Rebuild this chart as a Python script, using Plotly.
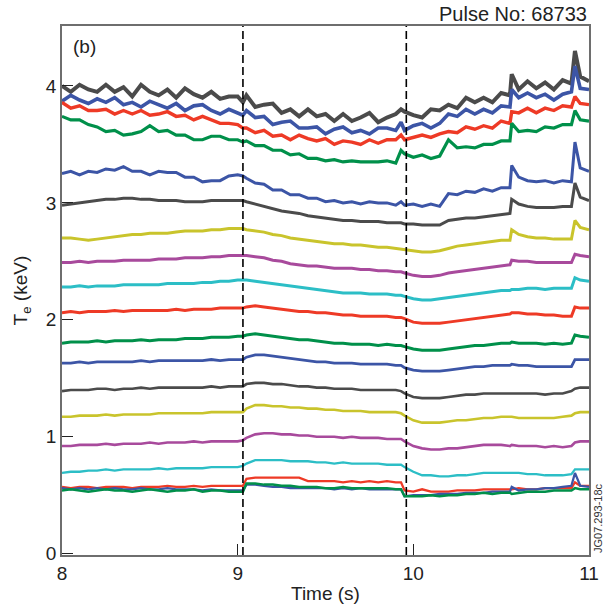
import plotly.graph_objects as go

# Time base (s)
time_s = [8.00, 8.05, 8.10, 8.15, 8.20, 8.25, 8.30, 8.35, 8.40, 8.45,
          8.50, 8.55, 8.60, 8.65, 8.70, 8.75, 8.80, 8.85, 8.90, 8.95,
          9.00, 9.03, 9.05, 9.10, 9.15, 9.20, 9.25, 9.30, 9.35, 9.40,
          9.45, 9.50, 9.55, 9.60, 9.65, 9.70, 9.75, 9.80, 9.85, 9.90,
          9.93, 9.95, 10.00, 10.05, 10.10, 10.15, 10.20, 10.25, 10.30, 10.35,
          10.40, 10.45, 10.50, 10.55, 10.56, 10.60, 10.65, 10.70, 10.75, 10.80,
          10.85, 10.90, 10.92, 10.95, 11.00]

# Te channels (keV), top to bottom
te_gray_1 = [4.00, 3.95, 4.01, 3.97, 3.95, 4.01, 3.95, 3.99, 3.91, 4.01,
             3.95, 3.92, 3.97, 3.90, 3.98, 3.93, 3.90, 3.95, 3.89, 3.91,
             3.91, 3.86, 3.92, 3.82, 3.84, 3.85, 3.77, 3.80, 3.74, 3.80,
             3.74, 3.76, 3.70, 3.76, 3.70, 3.73, 3.77, 3.69, 3.73, 3.76,
             3.80, 3.78, 3.75, 3.73, 3.80, 3.79, 3.84, 3.81, 3.90, 3.86,
             3.90, 3.86, 3.94, 3.92, 4.10, 3.97, 4.04, 3.98, 4.03, 3.97,
             4.05, 4.02, 4.30, 4.08, 4.04]
te_blue_1 = [3.87, 3.92, 3.88, 3.85, 3.89, 3.86, 3.90, 3.84, 3.86, 3.82,
             3.87, 3.84, 3.81, 3.85, 3.79, 3.83, 3.84, 3.79, 3.76, 3.80,
             3.77, 3.75, 3.79, 3.73, 3.74, 3.67, 3.69, 3.70, 3.64, 3.64,
             3.65, 3.59, 3.63, 3.65, 3.60, 3.62, 3.59, 3.64, 3.64, 3.62,
             3.69, 3.62, 3.66, 3.68, 3.64, 3.68, 3.76, 3.74, 3.80, 3.76,
             3.80, 3.77, 3.83, 3.82, 3.97, 3.90, 3.94, 3.90, 3.93, 3.88,
             3.93, 3.95, 4.17, 3.98, 3.97]
te_red_1 = [3.86, 3.81, 3.83, 3.79, 3.79, 3.80, 3.76, 3.79, 3.76, 3.79,
            3.75, 3.76, 3.78, 3.74, 3.75, 3.71, 3.74, 3.71, 3.68, 3.68,
            3.67, 3.64, 3.64, 3.60, 3.62, 3.57, 3.58, 3.54, 3.58, 3.55,
            3.53, 3.55, 3.50, 3.53, 3.52, 3.50, 3.54, 3.51, 3.54, 3.54,
            3.58, 3.54, 3.56, 3.58, 3.56, 3.59, 3.61, 3.60, 3.65, 3.63,
            3.66, 3.64, 3.70, 3.68, 3.78, 3.77, 3.81, 3.77, 3.81, 3.79,
            3.83, 3.82, 3.91, 3.85, 3.84]
te_green_1 = [3.74, 3.71, 3.71, 3.67, 3.65, 3.61, 3.62, 3.58, 3.59, 3.61,
              3.66, 3.61, 3.62, 3.58, 3.58, 3.54, 3.54, 3.57, 3.57, 3.54,
              3.54, 3.52, 3.53, 3.49, 3.49, 3.45, 3.45, 3.41, 3.42, 3.38,
              3.38, 3.36, 3.37, 3.35, 3.36, 3.35, 3.35, 3.35, 3.36, 3.34,
              3.45, 3.42, 3.39, 3.41, 3.38, 3.40, 3.54, 3.47, 3.48, 3.47,
              3.50, 3.50, 3.53, 3.53, 3.68, 3.61, 3.62, 3.61, 3.65, 3.64,
              3.67, 3.67, 3.79, 3.71, 3.70]
te_blue_2 = [3.25, 3.27, 3.24, 3.27, 3.26, 3.29, 3.28, 3.31, 3.27, 3.27,
             3.24, 3.27, 3.26, 3.26, 3.22, 3.22, 3.18, 3.19, 3.19, 3.23,
             3.24, 3.23, 3.21, 3.17, 3.16, 3.11, 3.11, 3.07, 3.07, 3.04,
             3.04, 3.01, 3.02, 3.00, 3.01, 2.99, 3.01, 3.00, 3.00, 2.98,
             3.01, 2.98, 2.99, 2.97, 2.99, 2.97, 3.08, 3.07, 3.10, 3.09,
             3.12, 3.10, 3.13, 3.13, 3.32, 3.22, 3.19, 3.18, 3.19, 3.17,
             3.19, 3.18, 3.52, 3.30, 3.27]
te_gray_2 = [2.98, 2.99, 3.00, 3.01, 3.02, 3.03, 3.03, 3.04, 3.04, 3.03,
             3.03, 3.02, 3.02, 3.02, 3.01, 3.01, 3.01, 3.02, 3.02, 3.02,
             3.02, 3.02, 3.01, 2.99, 2.97, 2.95, 2.93, 2.92, 2.91, 2.89,
             2.88, 2.87, 2.86, 2.85, 2.85, 2.84, 2.84, 2.84, 2.83, 2.83,
             2.83, 2.82, 2.82, 2.81, 2.81, 2.81, 2.85, 2.86, 2.87, 2.87,
             2.88, 2.89, 2.90, 2.91, 3.03, 2.99, 2.97, 2.96, 2.96, 2.96,
             2.97, 2.97, 3.17, 3.05, 3.02]
te_olive_1 = [2.70, 2.70, 2.69, 2.68, 2.69, 2.70, 2.71, 2.72, 2.73, 2.73,
              2.74, 2.74, 2.74, 2.75, 2.76, 2.76, 2.76, 2.77, 2.77, 2.78,
              2.78, 2.78, 2.77, 2.76, 2.75, 2.73, 2.72, 2.70, 2.69, 2.68,
              2.67, 2.66, 2.65, 2.65, 2.64, 2.64, 2.63, 2.62, 2.62, 2.61,
              2.61, 2.60, 2.59, 2.58, 2.58, 2.59, 2.61, 2.63, 2.64, 2.65,
              2.66, 2.67, 2.68, 2.68, 2.77, 2.73, 2.71, 2.70, 2.70, 2.69,
              2.69, 2.69, 2.85, 2.79, 2.77]
te_magenta_1 = [2.49, 2.49, 2.50, 2.49, 2.50, 2.50, 2.50, 2.51, 2.51, 2.51,
                2.51, 2.52, 2.52, 2.52, 2.53, 2.53, 2.53, 2.54, 2.54, 2.55,
                2.55, 2.55, 2.55, 2.54, 2.53, 2.51, 2.50, 2.48, 2.47, 2.46,
                2.46, 2.45, 2.44, 2.44, 2.44, 2.43, 2.43, 2.42, 2.42, 2.41,
                2.41, 2.40, 2.38, 2.37, 2.37, 2.38, 2.40, 2.41, 2.42, 2.43,
                2.44, 2.45, 2.46, 2.47, 2.51, 2.50, 2.50, 2.49, 2.49, 2.49,
                2.49, 2.49, 2.56, 2.55, 2.54]
te_cyan_1 = [2.28, 2.28, 2.29, 2.28, 2.29, 2.29, 2.29, 2.30, 2.30, 2.30,
             2.30, 2.30, 2.31, 2.31, 2.31, 2.31, 2.32, 2.32, 2.33, 2.33,
             2.34, 2.34, 2.34, 2.33, 2.32, 2.31, 2.30, 2.29, 2.28, 2.27,
             2.26, 2.25, 2.24, 2.23, 2.23, 2.23, 2.22, 2.22, 2.22, 2.21,
             2.21, 2.20, 2.18, 2.17, 2.17, 2.18, 2.19, 2.20, 2.21, 2.22,
             2.23, 2.24, 2.25, 2.25, 2.26, 2.26, 2.27, 2.27, 2.26, 2.27,
             2.27, 2.27, 2.36, 2.34, 2.33]
te_red_2 = [2.06, 2.07, 2.06, 2.07, 2.07, 2.07, 2.08, 2.07, 2.08, 2.08,
            2.08, 2.08, 2.08, 2.09, 2.08, 2.09, 2.09, 2.09, 2.10, 2.10,
            2.10, 2.10, 2.11, 2.12, 2.11, 2.10, 2.09, 2.08, 2.07, 2.07,
            2.06, 2.06, 2.05, 2.04, 2.04, 2.03, 2.03, 2.03, 2.03, 2.02,
            2.02, 2.01, 1.98, 1.97, 1.97, 1.97, 1.98, 1.99, 2.00, 2.01,
            2.02, 2.03, 2.04, 2.05, 2.06, 2.06, 2.05, 2.05, 2.04, 2.04,
            2.03, 2.03, 2.11, 2.10, 2.10]
te_green_2 = [1.80, 1.81, 1.81, 1.81, 1.82, 1.81, 1.82, 1.82, 1.82, 1.83,
              1.82, 1.83, 1.83, 1.83, 1.84, 1.84, 1.84, 1.85, 1.85, 1.85,
              1.86, 1.86, 1.87, 1.88, 1.87, 1.86, 1.85, 1.84, 1.83, 1.83,
              1.82, 1.81, 1.80, 1.80, 1.79, 1.79, 1.79, 1.78, 1.79, 1.78,
              1.78, 1.77, 1.75, 1.74, 1.74, 1.74, 1.75, 1.76, 1.77, 1.78,
              1.78, 1.79, 1.80, 1.80, 1.81, 1.80, 1.80, 1.80, 1.79, 1.80,
              1.79, 1.80, 1.87, 1.86, 1.85]
te_blue_3 = [1.63, 1.63, 1.64, 1.63, 1.64, 1.64, 1.64, 1.64, 1.64, 1.65,
             1.64, 1.65, 1.65, 1.65, 1.65, 1.65, 1.65, 1.66, 1.65, 1.66,
             1.66, 1.66, 1.68, 1.70, 1.70, 1.69, 1.68, 1.67, 1.66, 1.65,
             1.64, 1.64, 1.63, 1.63, 1.63, 1.62, 1.62, 1.62, 1.62, 1.61,
             1.61, 1.59, 1.57, 1.56, 1.56, 1.56, 1.57, 1.58, 1.59, 1.60,
             1.60, 1.61, 1.61, 1.61, 1.62, 1.61, 1.61, 1.60, 1.60, 1.60,
             1.60, 1.60, 1.66, 1.66, 1.66]
te_gray_3 = [1.39, 1.40, 1.40, 1.40, 1.41, 1.41, 1.40, 1.41, 1.41, 1.42,
             1.41, 1.42, 1.42, 1.42, 1.42, 1.42, 1.42, 1.43, 1.42, 1.43,
             1.43, 1.43, 1.45, 1.46, 1.46, 1.45, 1.45, 1.44, 1.43, 1.43,
             1.42, 1.42, 1.41, 1.41, 1.41, 1.40, 1.40, 1.40, 1.40, 1.40,
             1.39, 1.37, 1.34, 1.33, 1.33, 1.33, 1.34, 1.35, 1.36, 1.36,
             1.37, 1.37, 1.37, 1.37, 1.37, 1.37, 1.37, 1.37, 1.36, 1.37,
             1.37, 1.39, 1.41, 1.42, 1.42]
te_olive_2 = [1.17, 1.17, 1.18, 1.18, 1.18, 1.19, 1.18, 1.19, 1.19, 1.19,
              1.19, 1.20, 1.20, 1.20, 1.20, 1.20, 1.20, 1.21, 1.21, 1.21,
              1.21, 1.21, 1.24, 1.27, 1.27, 1.26, 1.26, 1.25, 1.25, 1.24,
              1.24, 1.23, 1.23, 1.22, 1.22, 1.22, 1.21, 1.21, 1.21, 1.21,
              1.20, 1.18, 1.14, 1.12, 1.12, 1.12, 1.13, 1.14, 1.14, 1.15,
              1.16, 1.16, 1.17, 1.17, 1.17, 1.16, 1.16, 1.16, 1.16, 1.16,
              1.17, 1.18, 1.20, 1.21, 1.21]
te_magenta_2 = [0.92, 0.92, 0.93, 0.93, 0.93, 0.94, 0.93, 0.94, 0.94, 0.94,
                0.95, 0.94, 0.95, 0.95, 0.95, 0.96, 0.95, 0.96, 0.96, 0.96,
                0.96, 0.97, 0.99, 1.02, 1.03, 1.03, 1.02, 1.02, 1.01, 1.01,
                1.00, 1.00, 1.00, 0.99, 1.00, 0.99, 0.99, 0.99, 0.98, 0.98,
                0.98, 0.96, 0.92, 0.90, 0.89, 0.89, 0.90, 0.90, 0.91, 0.92,
                0.93, 0.93, 0.93, 0.92, 0.93, 0.92, 0.92, 0.92, 0.91, 0.92,
                0.91, 0.92, 0.95, 0.96, 0.96]
te_cyan_2 = [0.69, 0.70, 0.70, 0.71, 0.71, 0.72, 0.71, 0.72, 0.72, 0.72,
             0.72, 0.73, 0.72, 0.73, 0.73, 0.73, 0.73, 0.74, 0.74, 0.74,
             0.74, 0.75, 0.77, 0.80, 0.80, 0.80, 0.80, 0.79, 0.79, 0.79,
             0.78, 0.78, 0.77, 0.78, 0.77, 0.77, 0.77, 0.77, 0.76, 0.76,
             0.76, 0.74, 0.70, 0.67, 0.67, 0.66, 0.66, 0.67, 0.67, 0.68,
             0.69, 0.69, 0.69, 0.69, 0.69, 0.69, 0.68, 0.68, 0.67, 0.67,
             0.67, 0.68, 0.72, 0.72, 0.72]
te_red_3 = [0.57, 0.56, 0.57, 0.57, 0.56, 0.57, 0.57, 0.57, 0.56, 0.57,
            0.57, 0.57, 0.58, 0.57, 0.57, 0.58, 0.57, 0.58, 0.58, 0.58,
            0.58, 0.58, 0.64, 0.65, 0.65, 0.65, 0.65, 0.65, 0.65, 0.62,
            0.62, 0.62, 0.62, 0.61, 0.62, 0.61, 0.62, 0.61, 0.62, 0.61,
            0.61, 0.54, 0.53, 0.55, 0.53, 0.53, 0.53, 0.54, 0.54, 0.54,
            0.55, 0.55, 0.55, 0.55, 0.55, 0.56, 0.55, 0.55, 0.56, 0.56,
            0.56, 0.56, 0.61, 0.58, 0.58]
te_blue_4 = [0.56, 0.55, 0.56, 0.55, 0.56, 0.55, 0.56, 0.55, 0.55, 0.56,
             0.55, 0.55, 0.56, 0.55, 0.55, 0.55, 0.54, 0.55, 0.54, 0.54,
             0.54, 0.54, 0.59, 0.59, 0.58, 0.57, 0.57, 0.56, 0.56, 0.56,
             0.56, 0.56, 0.55, 0.56, 0.55, 0.56, 0.55, 0.55, 0.55, 0.55,
             0.55, 0.49, 0.50, 0.50, 0.50, 0.51, 0.51, 0.51, 0.52, 0.52,
             0.52, 0.53, 0.53, 0.53, 0.57, 0.54, 0.55, 0.55, 0.56, 0.56,
             0.57, 0.58, 0.69, 0.58, 0.57]
te_green_3 = [0.54, 0.55, 0.54, 0.53, 0.54, 0.55, 0.54, 0.54, 0.53, 0.54,
              0.55, 0.54, 0.53, 0.54, 0.54, 0.55, 0.53, 0.54, 0.54, 0.53,
              0.53, 0.53, 0.60, 0.60, 0.59, 0.59, 0.58, 0.58, 0.57, 0.57,
              0.57, 0.56, 0.56, 0.57, 0.56, 0.56, 0.56, 0.56, 0.56, 0.55,
              0.55, 0.49, 0.49, 0.49, 0.50, 0.49, 0.50, 0.50, 0.51, 0.51,
              0.52, 0.51, 0.52, 0.52, 0.51, 0.52, 0.53, 0.53, 0.53, 0.54,
              0.54, 0.54, 0.56, 0.55, 0.55]

GRAY = "#4b4b4b"
BLUE = "#3c55a6"
RED = "#ee3a26"
GREEN = "#00904a"
OLIVE = "#c9c42c"
MAGENTA = "#a84a9c"
CYAN = "#2cbec6"

channels = [
    (te_gray_1, GRAY, 4.0), (te_blue_1, BLUE, 3.6), (te_red_1, RED, 3.4),
    (te_green_1, GREEN, 3.2), (te_blue_2, BLUE, 3.0), (te_gray_2, GRAY, 3.0),
    (te_olive_1, OLIVE, 3.0), (te_magenta_1, MAGENTA, 3.0), (te_cyan_1, CYAN, 3.0),
    (te_red_2, RED, 3.0), (te_green_2, GREEN, 3.0), (te_blue_3, BLUE, 2.8),
    (te_gray_3, GRAY, 2.6), (te_olive_2, OLIVE, 2.6), (te_magenta_2, MAGENTA, 2.6),
    (te_cyan_2, CYAN, 2.3), (te_red_3, RED, 2.3), (te_blue_4, BLUE, 2.3),
    (te_green_3, GREEN, 2.5),
]

event_times = [9.03, 9.96]

fig = go.Figure()
for vals, col, w in channels:
    fig.add_trace(go.Scatter(x=time_s, y=vals, mode="lines",
                             line=dict(color=col, width=w), showlegend=False,
                             hoverinfo="skip"))

for t in event_times:
    fig.add_shape(type="line", x0=t, x1=t, y0=0, y1=1, xref="x", yref="paper",
                  line=dict(color="black", width=1.6, dash="8px,4px"))

FONT = "Arial, Liberation Sans, Helvetica, sans-serif"
axis_common = dict(showline=True, mirror=True, linecolor="#6e6e6e", linewidth=1.5,
                   ticks="inside", ticklen=11, tickwidth=1.3, tickcolor="#222",
                   showgrid=False, zeroline=False,
                   tickfont=dict(family=FONT, size=19, color="#222"))

fig.update_layout(
    width=611, height=615,
    margin=dict(l=62, r=20, t=26, b=60),
    plot_bgcolor="white", paper_bgcolor="white",
    xaxis=dict(range=[8, 11], tickvals=[8, 9, 10, 11], **axis_common),
    yaxis=dict(range=[-0.012, 4.513], tickvals=[0, 1, 2, 3, 4], **axis_common),
    annotations=[
        dict(text="Pulse No: 68733", xref="paper", yref="paper", x=1.0, y=1.0227,
             xanchor="right", yanchor="middle", showarrow=False,
             font=dict(family=FONT, size=20, color="#222")),
        dict(text="(b)", xref="paper", yref="paper", x=0.018, y=0.985,
             xanchor="left", yanchor="top", showarrow=False,
             font=dict(family=FONT, size=19, color="#222")),
        dict(text="T<sub>e</sub> (keV)", xref="paper", yref="paper", x=-0.076, y=0.5,
             xanchor="center", yanchor="middle", textangle=-90, showarrow=False,
             font=dict(family=FONT, size=19, color="#222")),
        dict(text="Time (s)", xref="paper", yref="paper", x=0.5, y=-0.072,
             xanchor="center", yanchor="middle", showarrow=False,
             font=dict(family=FONT, size=19, color="#222")),
        dict(text="JG07.293-18c", xref="paper", yref="paper", x=1.0, y=0.0,
             xanchor="left", yanchor="bottom", xshift=1, textangle=-90, showarrow=False,
             font=dict(family=FONT, size=11, color="#333")),
    ],
)

fig.write_html("out.html",
               config={"displayModeBar": False},
               post_script="document.body.style.margin='0';document.body.style.overflow='hidden';")
